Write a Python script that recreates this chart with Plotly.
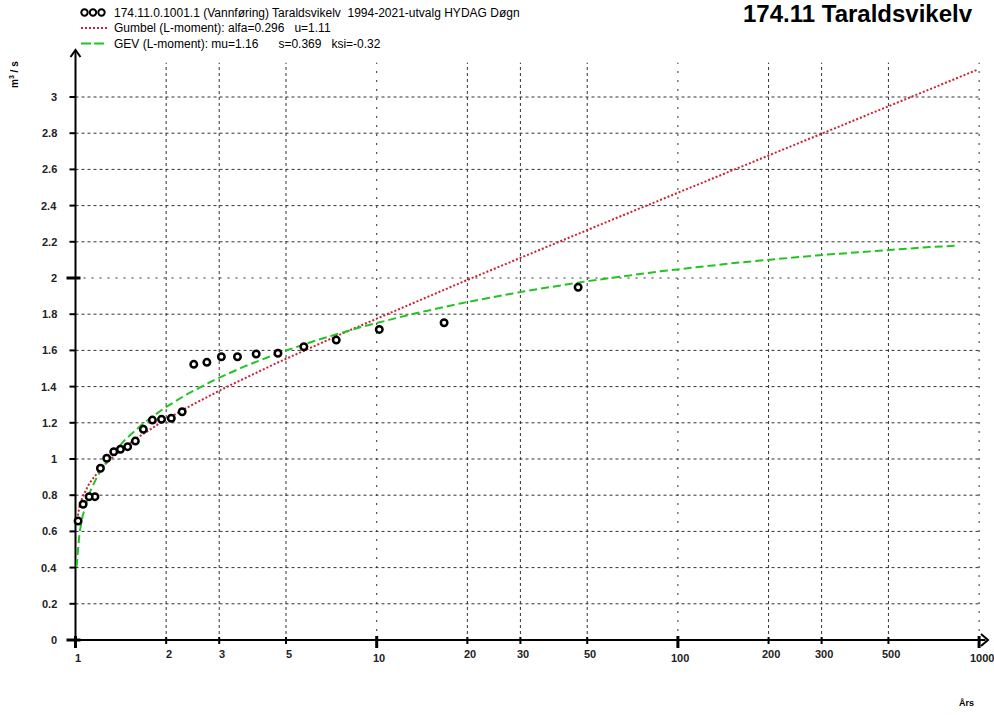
import numpy as np
import plotly.graph_objects as go

# Annual maximum daily discharge (m3/s), ranked largest to smallest,
# with their plotting-position return periods (years)
return_period = [46.64, 16.74, 10.20, 7.34, 5.73, 4.70, 3.98, 3.45, 3.05, 2.73,
                 2.47, 2.26, 2.08, 1.93, 1.80, 1.68, 1.58, 1.49, 1.41, 1.34,
                 1.27, 1.21, 1.16, 1.11, 1.06, 1.02]
discharge = [1.949, 1.753, 1.716, 1.657, 1.620, 1.584, 1.580, 1.565, 1.565, 1.534,
             1.523, 1.261, 1.225, 1.219, 1.215, 1.164, 1.099, 1.068, 1.054, 1.040,
             1.004, 0.949, 0.792, 0.792, 0.750, 0.657]

# Fitted distribution parameters (L-moments)
gumbel_alfa, gumbel_u = 0.296, 1.11
gev_mu, gev_s, gev_ksi = 1.16, 0.369, -0.32

x_ticks = [1, 2, 3, 5, 10, 20, 30, 50, 100, 200, 300, 500, 1000]
x_major = [1, 10, 100, 1000]
y_ticks = [0, 0.2, 0.4, 0.6, 0.8, 1, 1.2, 1.4, 1.6, 1.8, 2, 2.2, 2.4, 2.6, 2.8, 3]
y_tick_labels = ["0", "0.2", "0.4", "0.6", "0.8", "1", "1.2", "1.4", "1.6", "1.8",
                 "2", "2.2", "2.4", "2.6", "2.8", "3"]
y_major = [0, 2]

W, H = 994, 715
X0_PX, DEC_PX = 75.5, 301.2     # pixel of T=1, pixels per decade
Y0_PX, UNIT_PX = 640.0, 181.0   # pixel of Q=0, pixels per m3/s

x_range = [(0 - X0_PX) / DEC_PX, (W - X0_PX) / DEC_PX]
y_range = [-(H - Y0_PX) / UNIT_PX, Y0_PX / UNIT_PX]


def px(v):
    return v / W


def py(v):
    return 1 - v / H


def xd(v):  # pixel offset from T=1 -> return period
    return 10 ** (v / DEC_PX)


# Distribution curves
T_gum = np.logspace(np.log10(1.008), np.log10(985), 300)
F = 1 - 1 / T_gum
q_gum = gumbel_u - gumbel_alfa * np.log(-np.log(F))

T_gev = np.logspace(np.log10(1.008), np.log10(850), 300)
F2 = 1 - 1 / T_gev
k = -gev_ksi
q_gev = gev_mu + gev_s / k * (1 - (-np.log(F2)) ** k)

fig = go.Figure()

grid_col = "#333333"
y_top = 3.19

# vertical grid lines
for t in x_ticks[1:]:
    fig.add_trace(go.Scatter(
        x=[t, t], y=[0, y_top], mode="lines", hoverinfo="skip",
        line=dict(color=grid_col, width=1,
                  dash="2px,7px" if t in x_major else "3px,3px")))
# horizontal grid lines
for v in y_ticks[1:]:
    fig.add_trace(go.Scatter(
        x=[1, 1000], y=[v, v], mode="lines", hoverinfo="skip",
        line=dict(color=grid_col, width=1,
                  dash="2px,6px" if v in y_major else "3px,3px")))

# axis lines
fig.add_trace(go.Scatter(x=[xd(-2), xd(910)], y=[0, 0], mode="lines",
                         hoverinfo="skip", line=dict(color="black", width=2)))
fig.add_trace(go.Scatter(x=[1, 1], y=[-2 / UNIT_PX, (Y0_PX - 50) / UNIT_PX],
                         mode="lines", hoverinfo="skip",
                         line=dict(color="black", width=2)))

# x tick marks
for t in x_ticks:
    if t in x_major:
        fig.add_trace(go.Scatter(x=[t, t], y=[4 / UNIT_PX, -8 / UNIT_PX], mode="lines",
                                 hoverinfo="skip", line=dict(color="black", width=3)))
    else:
        fig.add_trace(go.Scatter(x=[t, t], y=[3 / UNIT_PX, -4 / UNIT_PX], mode="lines",
                                 hoverinfo="skip", line=dict(color="black", width=2)))
# y tick marks
for v in y_ticks:
    if v in y_major:
        fig.add_trace(go.Scatter(x=[xd(-9), xd(5)], y=[v, v], mode="lines",
                                 hoverinfo="skip", line=dict(color="black", width=3)))
    else:
        fig.add_trace(go.Scatter(x=[xd(-6), 1], y=[v, v], mode="lines",
                                 hoverinfo="skip", line=dict(color="black", width=2)))

# fitted curves
fig.add_trace(go.Scatter(x=T_gum, y=q_gum, mode="lines", hoverinfo="skip",
                         line=dict(color="#cc2233", width=2, dash="2px,2px")))
fig.add_trace(go.Scatter(x=T_gev, y=q_gev, mode="lines", hoverinfo="skip",
                         line=dict(color="#22c322", width=2, dash="8px,4px")))

# observations
fig.add_trace(go.Scatter(x=return_period, y=discharge, mode="markers",
                         marker=dict(symbol="circle", size=6.5, color="white",
                                     line=dict(color="black", width=2.5))))

annotations = []
tick_font = dict(family="Liberation Sans, Arial", size=11, color="#222222")

for v, lab in zip(y_ticks, y_tick_labels):
    annotations.append(dict(x=px(59), y=v, xref="paper", yref="y", text="<b>%s</b>" % lab,
                            showarrow=False, xanchor="right", yanchor="middle",
                            font=tick_font))
for t in x_ticks:
    ypix = 658 if t in x_major else 654
    annotations.append(dict(x=np.log10(t) + 2.5 / DEC_PX, y=py(ypix), xref="x", yref="paper",
                            text="<b>%d</b>" % t, showarrow=False,
                            xanchor="center", yanchor="middle", font=tick_font))

legend_font = dict(family="Liberation Sans, Arial", size=12, color="black")
nb = "\u00a0"
legend_lines = [
    "174.11.0.1001.1 (Vannføring) Taraldsvikelv" + nb * 2 + "1994-2021-utvalg HYDAG Døgn",
    "Gumbel (L-moment): alfa=0.296" + nb * 3 + "u=1.11",
    "GEV (L-moment): mu=1.16" + nb * 6 + "s=0.369" + nb * 3 + "ksi=-0.32",
]
for i, txt in enumerate(legend_lines):
    annotations.append(dict(x=px(112), y=py(12.5 + 15.5 * i), xref="paper", yref="paper",
                            text=txt, showarrow=False, xanchor="left", yanchor="middle",
                            font=legend_font))

annotations.append(dict(x=px(741), y=py(13), xref="paper", yref="paper",
                        text="<b>174.11 Taraldsvikelv</b>", showarrow=False,
                        xanchor="left", yanchor="middle",
                        font=dict(family="Liberation Sans, Arial", size=24, color="black")))
annotations.append(dict(x=px(14), y=py(75), xref="paper", yref="paper",
                        text="<b>m<sup>3</sup> / s</b>", showarrow=False, textangle=-90,
                        xanchor="center", yanchor="middle",
                        font=dict(family="Liberation Sans, Arial", size=10, color="black")))
annotations.append(dict(x=px(966), y=py(703), xref="paper", yref="paper",
                        text="<b>Års</b>", showarrow=False,
                        xanchor="center", yanchor="middle",
                        font=dict(family="Liberation Sans, Arial", size=9, color="black")))

shapes = []
# arrow heads
shapes.append(dict(type="path", xref="paper", yref="paper",
                   path="M %f %f L %f %f L %f %f" % (px(70.5), py(57), px(75.5), py(50), px(80.5), py(57)),
                   line=dict(color="black", width=2)))
shapes.append(dict(type="path", xref="paper", yref="paper",
                   path="M %f %f L %f %f L %f %f" % (px(981), py(634), px(988), py(640), px(981), py(646)),
                   line=dict(color="black", width=2)))
# legend samples
for cx in (84.5, 93, 101.5):
    shapes.append(dict(type="circle", xref="paper", yref="paper",
                       x0=px(cx - 3.2), x1=px(cx + 3.2), y0=py(12.5 - 3.2), y1=py(12.5 + 3.2),
                       fillcolor="white", line=dict(color="black", width=2)))
shapes.append(dict(type="line", xref="paper", yref="paper",
                   x0=px(81), x1=px(107), y0=py(28), y1=py(28),
                   line=dict(color="#cc2233", width=2, dash="2px,2px")))
shapes.append(dict(type="line", xref="paper", yref="paper",
                   x0=px(81), x1=px(107), y0=py(43.5), y1=py(43.5),
                   line=dict(color="#22c322", width=2, dash="10px,3px")))

fig.update_layout(
    width=W, height=H,
    margin=dict(l=0, r=0, t=0, b=0),
    paper_bgcolor="white", plot_bgcolor="white",
    showlegend=False,
    xaxis=dict(type="log", range=x_range, visible=False, fixedrange=True),
    yaxis=dict(range=y_range, visible=False, fixedrange=True),
    annotations=annotations,
    shapes=shapes,
)

fig.write_html("out.html")
